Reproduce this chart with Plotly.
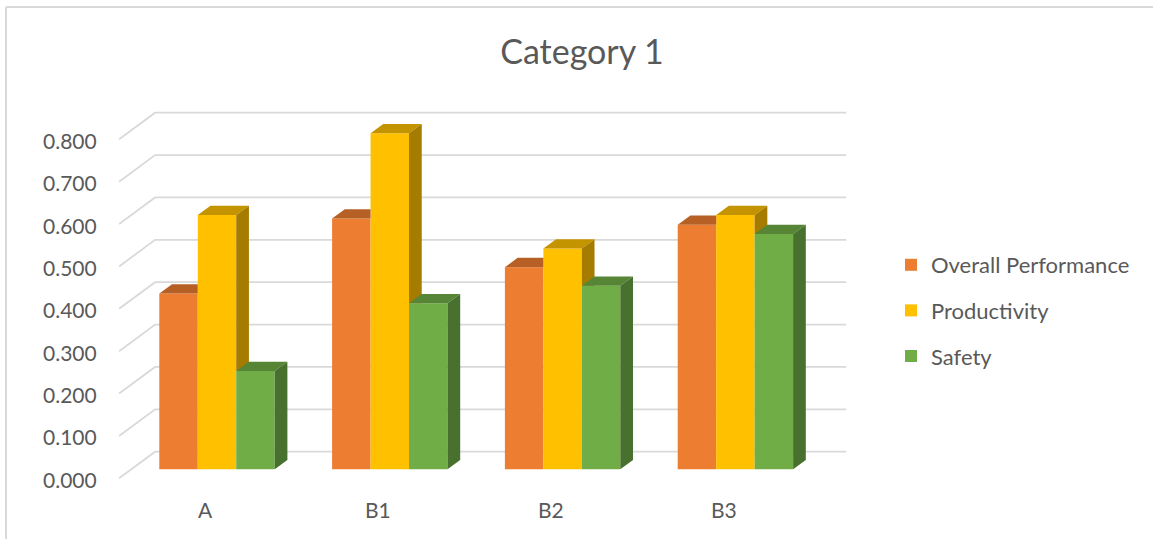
import plotly.graph_objects as go

# ---- data -------------------------------------------------------------
categories = ["A", "B1", "B2", "B3"]
overall_performance = [0.415, 0.592, 0.477, 0.577]
productivity = [0.600, 0.793, 0.521, 0.600]
safety = [0.232, 0.392, 0.433, 0.555]

y_ticks = [0.0, 0.1, 0.2, 0.3, 0.4, 0.5, 0.6, 0.7, 0.8]
y_tick_labels = ["0.000", "0.100", "0.200", "0.300", "0.400",
                 "0.500", "0.600", "0.700", "0.800"]

series_names = ["Overall Performance", "Productivity", "Safety"]
series_values = [overall_performance, productivity, safety]
series_colors = ["#ED7D31", "#FFC000", "#70AD47"]

TITLE = "Category 1"

# ---- layout geometry ----------------------------------------------------
W, H = 1153, 539
M_L, M_R, M_T, M_B = 100, 293, 100, 49
PLOT_W = W - M_L - M_R
PLOT_H = H - M_T - M_B
CAT_PX = 172.8      # pixels per category slot
UNIT_PX = 423.75    # pixels per 1.0 on the value axis
CAT0_PX = 217.0     # centre of the first group on the bar face plane
ZERO_PX = 469.3     # baseline of the bar faces

x_range = [(M_L - CAT0_PX) / CAT_PX, (M_L + PLOT_W - CAT0_PX) / CAT_PX]
y_range = [(ZERO_PX - (M_T + PLOT_H)) / UNIT_PX, (ZERO_PX - M_T) / UNIT_PX]


def ux(px):
    return px / CAT_PX


def uy(px):
    return px / UNIT_PX


def paper_x(px):
    return (px - M_L) / PLOT_W


def paper_y(py):
    return (M_T + PLOT_H - py) / PLOT_H


# oblique offsets (x, y) relative to the bar face plane
FRONT = (ux(-11.5), uy(-9.0))   # front edge of the floor
BACK = (ux(24.5), uy(17.6))     # back wall
DEPTH = (ux(12.7), uy(9.3))     # bar depth

BARGAP = 0.3322
GROUP_W = 1 - BARGAP
BAR_W = GROUP_W / len(series_names)

TEXT = "#595959"
GRID = "#D9D9D9"
FONT = "Lato"


def shade(hex_color, f):
    h = hex_color.lstrip("#")
    r, g, b = (int(h[i:i + 2], 16) for i in (0, 2, 4))
    return "#%02X%02X%02X" % (int(r * f), int(g * f), int(b * f))


fig = go.Figure()

# front faces of the columns
for k, (name, vals, col) in enumerate(zip(series_names, series_values, series_colors)):
    fig.add_trace(go.Bar(
        x=list(range(len(categories))), y=vals, name=name,
        marker=dict(color=col, line=dict(width=0)),
        legendgroup=name, hoverinfo="skip",
    ))


def face(xs, ys, color):
    fig.add_trace(go.Scatter(
        x=xs + xs[:1], y=ys + ys[:1], mode="lines", fill="toself",
        fillcolor=color, line=dict(width=0), showlegend=False,
        hoverinfo="skip",
    ))


# top and side faces, painted back-to-front within each group
ddx, ddy = DEPTH
for i in range(len(categories)):
    for k in range(len(series_names)):
        v = series_values[k][i]
        col = series_colors[k]
        xl = i - GROUP_W / 2 + k * BAR_W
        xr = xl + BAR_W
        last = k == len(series_names) - 1
        v_next = None if last else series_values[k + 1][i]

        # top face (the part hidden behind the neighbour's front is left out)
        t = 0.0 if last else min(1.0, max(0.0, (v_next - v) / ddy))
        if t >= 1.0:
            tx = [xl, xr, xr, xl + ddx]
            ty = [v, v, v + ddy, v + ddy]
        elif t > 0.0:
            tx = [xl, xr, xr, xr + t * ddx, xr + ddx, xl + ddx]
            ty = [v, v, v + t * ddy, v + t * ddy, v + ddy, v + ddy]
        else:
            tx = [xl, xr, xr + ddx, xl + ddx]
            ty = [v, v, v + ddy, v + ddy]
        face(tx, ty, shade(col, 0.77))

        # right side face (only what rises above the neighbour)
        if last:
            face([xr, xr, xr + ddx, xr + ddx], [0, v, v + ddy, ddy], shade(col, 0.65))
        elif v > v_next:
            face([xr, xr, xr + ddx, xr + ddx],
                 [v_next, v, v + ddy, max(v_next, ddy)], shade(col, 0.65))

# walls: gridlines on the back wall and the left side wall
wall_l = -0.5
wall_r = len(categories) - 0.5
shapes = []
for v in y_ticks:
    path = "M {},{} L {},{} L {},{}".format(
        wall_l + FRONT[0], v + FRONT[1],
        wall_l + BACK[0], v + BACK[1],
        wall_r + BACK[0], v + BACK[1],
    )
    shapes.append(dict(type="path", path=path, xref="x", yref="y",
                       line=dict(color=GRID, width=1.8), layer="below"))

# chart area border (top and left edges)
shapes.append(dict(type="line", xref="paper", yref="paper",
                   x0=paper_x(6), x1=paper_x(W + 5), y0=paper_y(7), y1=paper_y(7),
                   line=dict(color=GRID, width=2)))
shapes.append(dict(type="line", xref="paper", yref="paper",
                   x0=paper_x(6), x1=paper_x(6), y0=paper_y(7), y1=paper_y(H + 5),
                   line=dict(color=GRID, width=2)))

annotations = []
# value axis labels at the front edge of the side wall
for v, lab in zip(y_ticks, y_tick_labels):
    annotations.append(dict(
        x=wall_l + FRONT[0], y=v + FRONT[1], xref="x", yref="y",
        text=lab, showarrow=False, xanchor="right", yanchor="middle",
        xshift=-20, yshift=-1, font=dict(family=FONT, size=21, color=TEXT),
    ))
# category labels below the floor
for i, c in enumerate(categories):
    annotations.append(dict(
        x=i + FRONT[0], y=paper_y(509), xref="x", yref="paper",
        text=c, showarrow=False, xanchor="center", yanchor="middle",
        font=dict(family=FONT, size=21, color=TEXT),
    ))

fig.update_layout(
    width=W, height=H,
    margin=dict(l=M_L, r=M_R, t=M_T, b=M_B, autoexpand=False),
    paper_bgcolor="white", plot_bgcolor="white",
    barmode="group", bargap=BARGAP, bargroupgap=0,
    hovermode=False,
    title=dict(text=TITLE, x=582 / W, xref="container", xanchor="center",
               y=1 - 52 / H, yref="container", yanchor="middle",
               font=dict(family=FONT, size=34, color=TEXT)),
    xaxis=dict(range=x_range, visible=False, fixedrange=True),
    yaxis=dict(range=y_range, visible=False, fixedrange=True),
    legend=dict(x=paper_x(891), y=paper_y(244), xanchor="left", yanchor="top",
                font=dict(family=FONT, size=22, color=TEXT),
                traceorder="grouped", tracegroupgap=14,
                bgcolor="rgba(0,0,0,0)"),
    shapes=shapes, annotations=annotations,
    font=dict(family=FONT, color=TEXT),
)

fig.write_html("out.html")
